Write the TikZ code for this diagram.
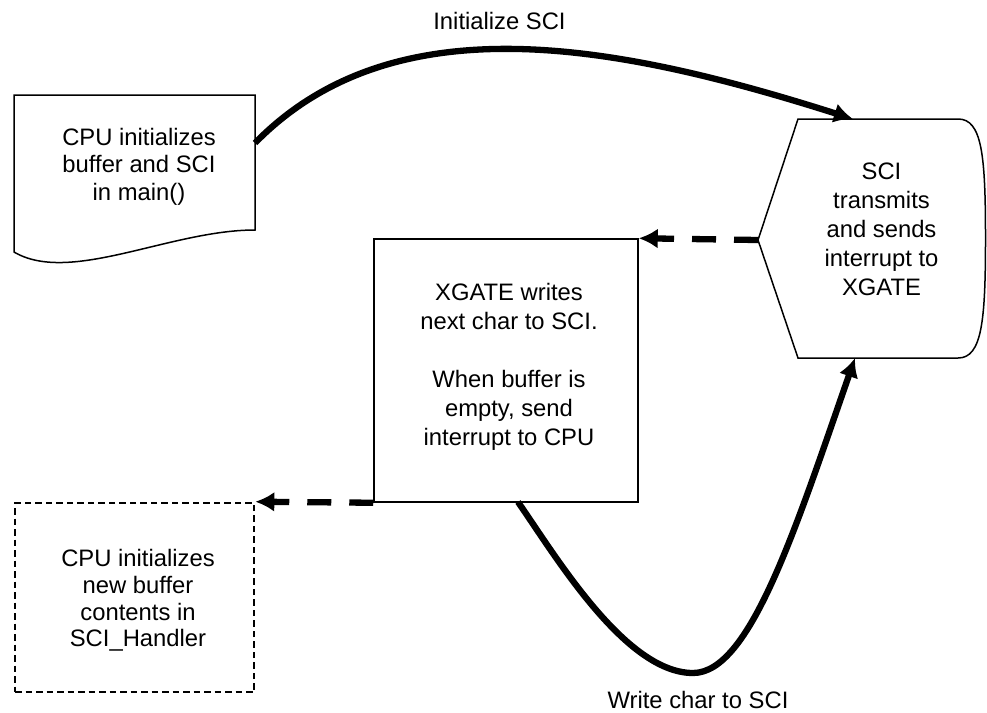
\documentclass[tikz,border=0pt]{standalone}
\usepackage{fontspec}
\setmainfont{Liberation Sans}
\usetikzlibrary{arrows.meta}
\begin{document}
\begin{tikzpicture}[x=1pt,y=-1pt,
  txt/.style={inner sep=0pt, align=center, anchor=north, font=\fontsize{23.8}{29}\selectfont},
  outline/.style={draw, line width=1.5pt},
  plainbox/.style={outline, inner sep=0pt, minimum width=264pt, minimum height=263pt},
  handlerbox/.style={draw, line width=2.6pt, dash pattern=on 6.5pt off 4pt, inner sep=0pt,
                     minimum width=239pt, minimum height=189pt},
  flow/.style={line width=6.3pt, -{Latex[length=19pt,width=20pt]}},
  signal/.style={flow, dash pattern=on 24pt off 18pt},
]
\useasboundingbox (0,0) rectangle (987,712);

% document-shaped block (wavy bottom edge)
\draw[outline] (14,252) -- (14,95) -- (255,95) -- (255,230)
  .. controls (170,230) and (70,285) .. (14,252) -- cycle;
\coordinate (docport) at (255,143);
\node[txt, font=\fontsize{23.8}{27.5}\selectfont] (cpuinit) at (139,128)
  {CPU initializes\\buffer and SCI\\in main()};

% display-shaped block (pointed left side, rounded right side)
\coordinate (scitl) at (798,119);
\coordinate (scitr) at (958,119);
\coordinate (scibr) at (958,358);
\coordinate (scibl) at (798,358);
\coordinate (sciw) at (758,240);
\draw[outline] (sciw) -- (scitl) -- (scitr)
  .. controls (982,119) and (985.5,155) .. (985.5,238)
  .. controls (985.5,321) and (982,358) .. (scibr) -- (scibl) -- cycle;
\coordinate (scitopin) at (853,119);
\coordinate (scibotin) at (855,358);
\node[txt] (scitext) at (881.5,163)
  {SCI\\transmits\\and sends\\interrupt to\\XGATE};

% XGATE block
\node[plainbox] (xgate) at (506,370.5) {};
\node[txt] (xgatetext) at (509,283)
  {XGATE writes\\next char to SCI.\\[29pt]When buffer is\\empty, send\\interrupt to CPU};
\coordinate (xgateout) at (518,502);

% CPU handler block (dashed)
\node[handlerbox] (handler) at (134.5,597.5) {};
\node[txt, font=\fontsize{23.8}{26.8}\selectfont] (handlertext) at (138,549)
  {CPU initializes\\new buffer\\contents in\\SCI\_Handler};

% connectors
\draw[flow] (docport) .. controls (395,0) and (620,45) .. (scitopin);
\node[txt] (initlabel) at (499.5,12) {Initialize SCI};

\draw[signal] (sciw) -- (xgate.north east);
\draw[signal] (xgate.south west) -- (handler.north east);

\draw[flow] (xgateout) .. controls (555,555) and (625,673) .. (693,673)
  .. controls (750,673) and (795,530) .. (scibotin);
\node[txt] (writelabel) at (698,691) {Write char to SCI};
\end{tikzpicture}
\end{document}
